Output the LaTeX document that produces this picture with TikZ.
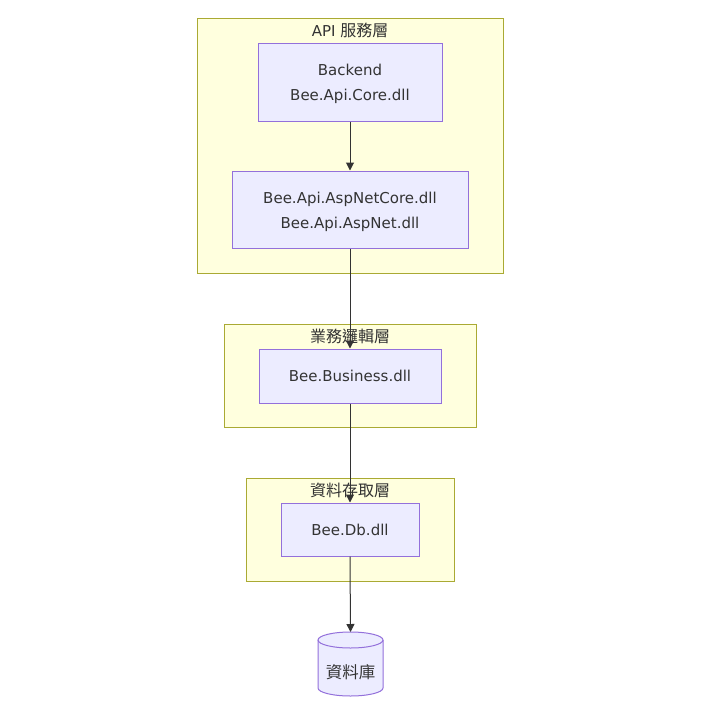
\documentclass[tikz,border=0pt]{standalone}
\usepackage{fontspec}
\setmainfont{DejaVu Sans}
\newfontfamily\cjk{Noto Sans CJK TC}
\usetikzlibrary{arrows.meta}
\definecolor{clfill}{HTML}{FFFFDE}
\definecolor{cldraw}{HTML}{AAAA33}
\definecolor{ndfill}{HTML}{ECECFF}
\definecolor{nddraw}{HTML}{9370DB}
\definecolor{txt}{HTML}{333333}
\tikzset{
  cluster/.style={draw=cldraw, fill=clfill, line width=1pt, inner sep=0pt},
  box/.style={draw=nddraw, fill=ndfill, line width=1pt, inner sep=0pt, text=txt, align=center,
    font=\fontsize{15}{25}\selectfont},
  boxtext/.style={text=txt, inner sep=0pt, align=center, font=\fontsize{15}{25}\selectfont, yshift=-2pt},
  ttl/.style={text=txt, inner sep=0pt, font=\fontsize{15}{18}\selectfont},
  link/.style={draw=txt, line width=1pt, -{Triangle[length=8pt,width=8pt]}}
}
\begin{document}
\begin{tikzpicture}[x=1pt,y=-1pt]
\useasboundingbox[fill=white] (0,0) rectangle (702,716);
% clusters
\node[cluster, minimum width=306pt, minimum height=255pt] (capi) at (350,145.5) {};
\node[ttl] (tapi) at (350,30.5) {API {\cjk\fontsize{16}{18}\selectfont 服務層}};
\node[cluster, minimum width=252pt, minimum height=103pt] (cbiz) at (350,375.5) {};
\node[ttl, font=\fontsize{16}{18}\selectfont\cjk] (tbiz) at (350,336.5) {業務邏輯層};
\node[cluster, minimum width=208pt, minimum height=103pt] (cdb) at (350,529.5) {};
\node[ttl, font=\fontsize{16}{18}\selectfont\cjk] (tdb) at (350,490.5) {資料存取層};
% nodes
\node[box, minimum width=184pt, minimum height=78pt,
  label={[boxtext]center:{Backend\\Bee.Api.Core.dll}}] (backend) at (350,82) {};
\node[box, minimum width=236pt, minimum height=77pt,
  label={[boxtext]center:{Bee.Api.AspNetCore.dll\\Bee.Api.AspNet.dll}}] (aspnet) at (350,209.5) {};
\node[box, minimum width=182pt, minimum height=54pt] (biz) at (350,376) {Bee.Business.dll};
\node[box, minimum width=138pt, minimum height=53pt] (dbdll) at (350,529.5) {Bee.Db.dll};
% cylinder
\fill[ndfill] (318,640) arc[start angle=180, end angle=360, x radius=32.5pt, y radius=8pt]
  -- (383,688) arc[start angle=0, end angle=-180, x radius=32.5pt, y radius=8pt] -- cycle;
\fill[ndfill] (350.5,640) ellipse[x radius=32.5pt, y radius=8pt];
\draw[nddraw, line width=1pt] (318,640) -- (318,688) arc[start angle=180, end angle=360, x radius=32.5pt, y radius=8pt] -- (383,640);
\draw[nddraw, line width=1pt] (350.5,640) ellipse[x radius=32.5pt, y radius=8pt];
\node[text=txt, inner sep=0pt, font=\fontsize{16.5}{18}\selectfont\cjk] (db) at (350.5,672.5) {資料庫};
\coordinate (dbtop) at (350.5,632);
% links
\draw[link] (backend.south) -- (aspnet.north);
\draw[link] (aspnet.south) -- (biz.north);
\draw[link] (biz.south) -- (dbdll.north);
\draw[link] (dbdll.south) -- (dbtop);
\end{tikzpicture}
\end{document}
